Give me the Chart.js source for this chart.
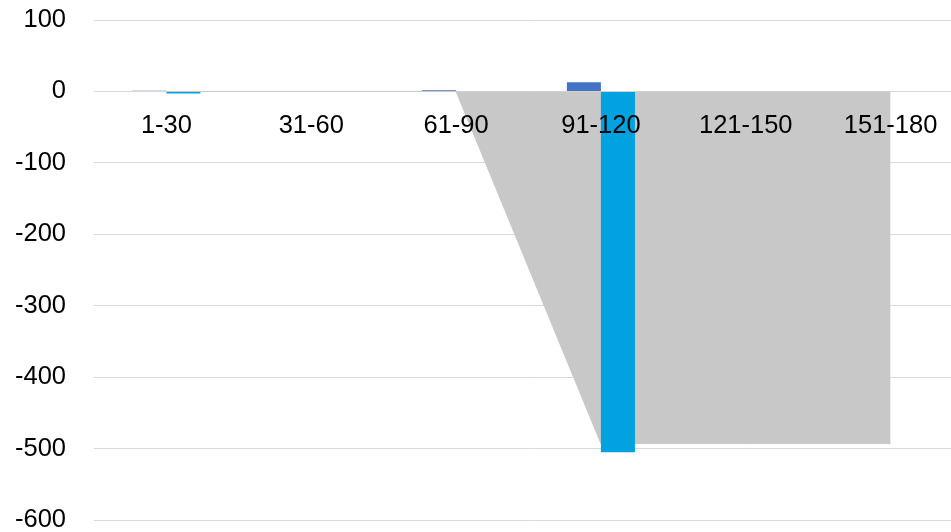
<!DOCTYPE html>
<html>
<head>
<meta charset="utf-8">
<script src="https://cdn.jsdelivr.net/npm/chart.js@4/dist/chart.umd.min.js"></script>
<style>
    html, body { margin: 0; padding: 0; background: #fff; overflow: hidden; }
    #wrap { width: 963px; height: 532px; }
</style>
</head>
<body>
<div id="wrap"><canvas id="agingChart"></canvas></div>
<script>
const categories = ["1-30", "31-60", "61-90", "91-120", "121-150", "151-180"];
const seriesDark = [1, 0, 1.5, 13, 0, 0];
const seriesLight = [-3, 0, 0, -505, 0, 0];
const seriesArea = [0, 0, 0, -493, -493, -493];
const yTicks = [100, 0, -100, -200, -300, -400, -500, -600];

const agingChart = {

    init() {
        this.buildChart();
    },

    buildChart() {
        const canvas = document.getElementById("agingChart");

        Chart.defaults.font.family = "'Liberation Sans', Arial, sans-serif";
        Chart.defaults.color = "#000";

        const chartData = {
            labels: categories,
            datasets: [{
                type: 'bar',
                data: seriesDark,
                backgroundColor: '#4472C4',
                order: 1
            }, {
                type: 'bar',
                data: seriesLight,
                backgroundColor: '#00A3E0',
                order: 1
            }, {
                type: 'line',
                data: seriesArea,
                backgroundColor: '#C8C8C8',
                borderColor: '#C8C8C8',
                borderWidth: 1,
                pointRadius: 0,
                tension: 0,
                fill: 'origin',
                order: 2
            }]
        };

        new Chart(canvas, {
            type: 'bar',
            data: chartData,
            options: {
                responsive: true,
                maintainAspectRatio: false,
                animation: false,
                datasets: {
                    bar: { barPercentage: 1, categoryPercentage: 0.47 }
                },
                layout: {
                    padding: { top: 20, bottom: 12, left: 0, right: 0 }
                },
                plugins: {
                    legend: { display: false },
                    tooltip: { enabled: false }
                },
                scales: {
                    x: {
                        position: { y: 0 },
                        offset: true,
                        grid: { display: false },
                        border: { display: false },
                        ticks: {
                            font: { size: 25.5 },
                            padding: 11,
                            maxRotation: 0,
                            z: 1   // labels sit on top of the grey area
                        },
                        afterFit(scale) {
                            scale.height = 0;
                            scale.paddingLeft = 0;
                            scale.paddingRight = 0;
                            scale.paddingTop = 0;
                            scale.paddingBottom = 0;
                        }
                    },
                    y: {
                        min: -600,
                        max: 100,
                        grid: {
                            color: '#D9D9D9',
                            drawTicks: false
                        },
                        border: { display: false },
                        afterBuildTicks(scale) {
                            scale.ticks = yTicks.map(v => ({ value: v }));
                        },
                        ticks: {
                            font: { size: 25.5 },
                            padding: 28
                        },
                        afterFit(scale) {
                            scale.width = 94;
                            scale.paddingTop = 0;
                            scale.paddingBottom = 0;
                        }
                    }
                }
            }
        });
    }
};

agingChart.init();
</script>
</body>
</html>
